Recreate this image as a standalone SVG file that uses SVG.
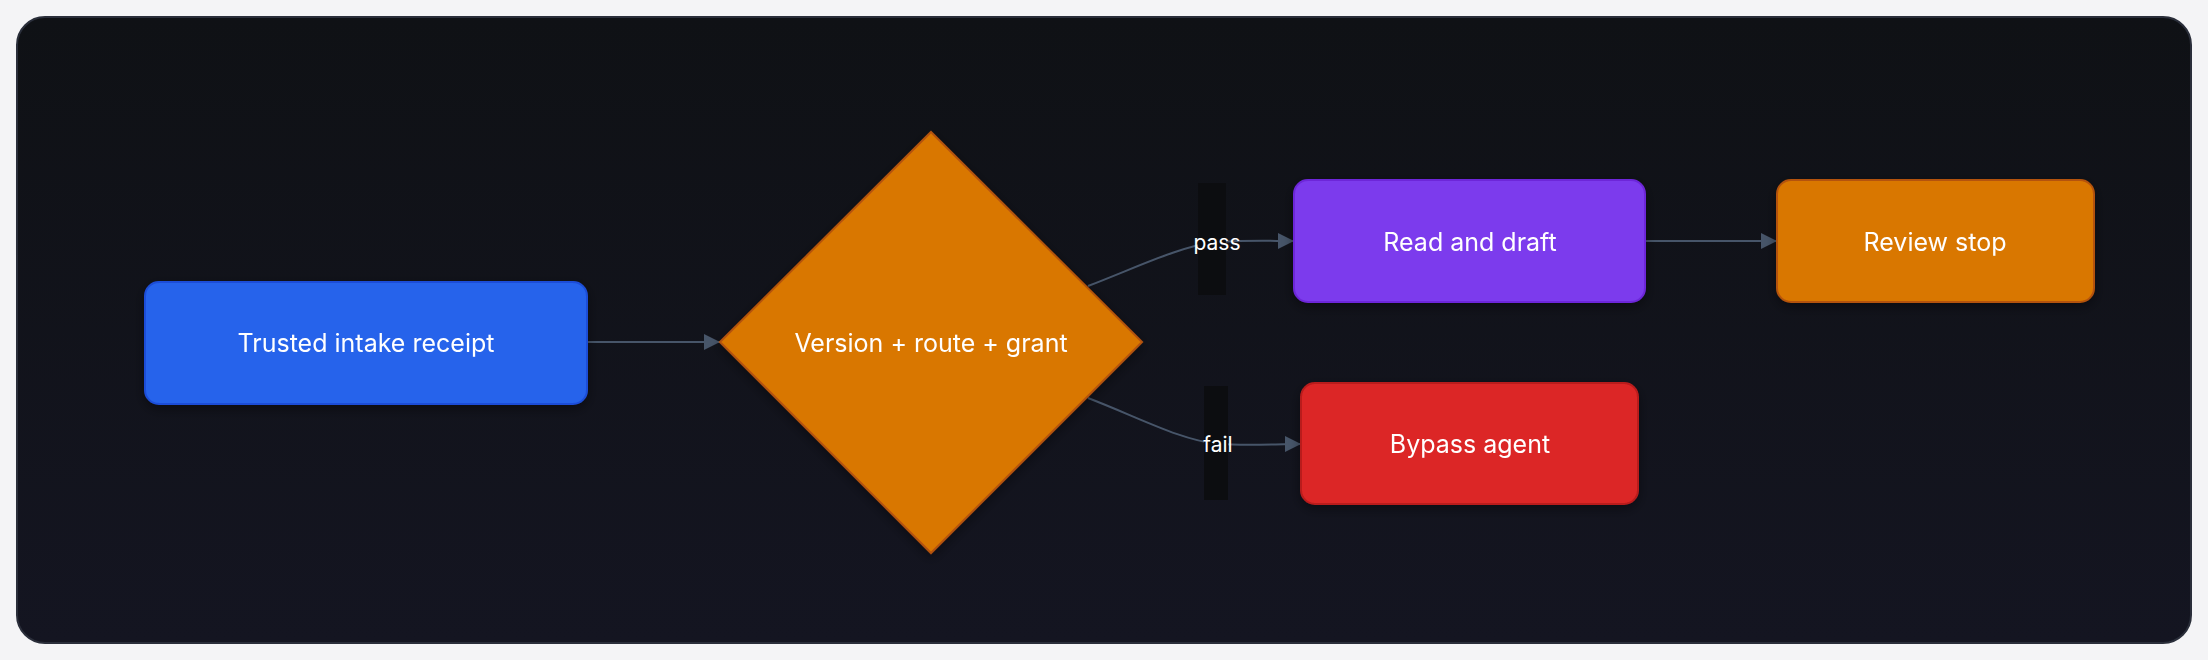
<svg xmlns="http://www.w3.org/2000/svg" width="2208" height="660" viewBox="0 0 2208 660">
<defs>
<linearGradient id="bg" x1="0" y1="0" x2="0" y2="1"><stop offset="0" stop-color="#0f1115"/><stop offset="1" stop-color="#141521"/></linearGradient>
<marker id="arr" viewBox="0 0 10 10" refX="10" refY="5" markerWidth="16" markerHeight="16" markerUnits="userSpaceOnUse" orient="auto"><path d="M0,0L10,5L0,10z" fill="#475569"/></marker>
<filter id="sh" x="-20%" y="-20%" width="140%" height="140%"><feDropShadow dx="0" dy="4" stdDeviation="6" flood-color="#000" flood-opacity="0.4"/></filter>
</defs>
<style>
.t{font-family:Inter,"Noto Sans",sans-serif;fill:#fff;font-size:25px;text-anchor:middle;dominant-baseline:central}
.l{font-family:Inter,"Noto Sans",sans-serif;fill:#fff;font-size:21px;text-anchor:middle;dominant-baseline:central}
.e{fill:none;stroke:#475569;stroke-width:2}
</style>
<rect width="2208" height="660" fill="#f4f4f6"/>
<rect x="17" y="17" width="2174" height="626" rx="28" fill="url(#bg)" stroke="#2a2e3a" stroke-width="2"/>
<g id="connectors">
<path class="e" d="M587,342H720" marker-end="url(#arr)"/>
<path class="e" d="M1088,286C1140,266 1180,246 1217,242C1250,240 1270,241 1294,241" marker-end="url(#arr)"/>
<path class="e" d="M1088,398C1140,418 1180,440 1218,444C1250,446 1275,444 1301,444" marker-end="url(#arr)"/>
<path class="e" d="M1645,241H1777" marker-end="url(#arr)"/>
<rect x="1198" y="183" width="28" height="112" fill="#0c0d10"/>
<text class="l" x="1217" y="242">pass</text>
<rect x="1204" y="386" width="24" height="114" fill="#0c0d10"/>
<text class="l" x="1218" y="444">fail</text>
</g>
<g id="trusted" filter="url(#sh)"><rect x="145" y="282" width="442" height="122" rx="14" fill="#2563eb" stroke="#1d4ed8" stroke-width="2"/><text class="t" x="366" y="343">Trusted intake receipt</text></g>
<g id="gate" filter="url(#sh)"><polygon points="931,132 1142,342 931,553 720,342" fill="#d97706" stroke="#b45309" stroke-width="2"/><text class="t" x="931" y="343">Version + route + grant</text></g>
<g id="read" filter="url(#sh)"><rect x="1294" y="180" width="351" height="122" rx="14" fill="#7c3aed" stroke="#6d28d9" stroke-width="2"/><text class="t" x="1470" y="242">Read and draft</text></g>
<g id="review" filter="url(#sh)"><rect x="1777" y="180" width="317" height="122" rx="14" fill="#d97706" stroke="#b45309" stroke-width="2"/><text class="t" x="1935" y="242">Review stop</text></g>
<g id="bypass" filter="url(#sh)"><rect x="1301" y="383" width="337" height="121" rx="14" fill="#dc2626" stroke="#b91c1c" stroke-width="2"/><text class="t" x="1470" y="444">Bypass agent</text></g>
</svg>
